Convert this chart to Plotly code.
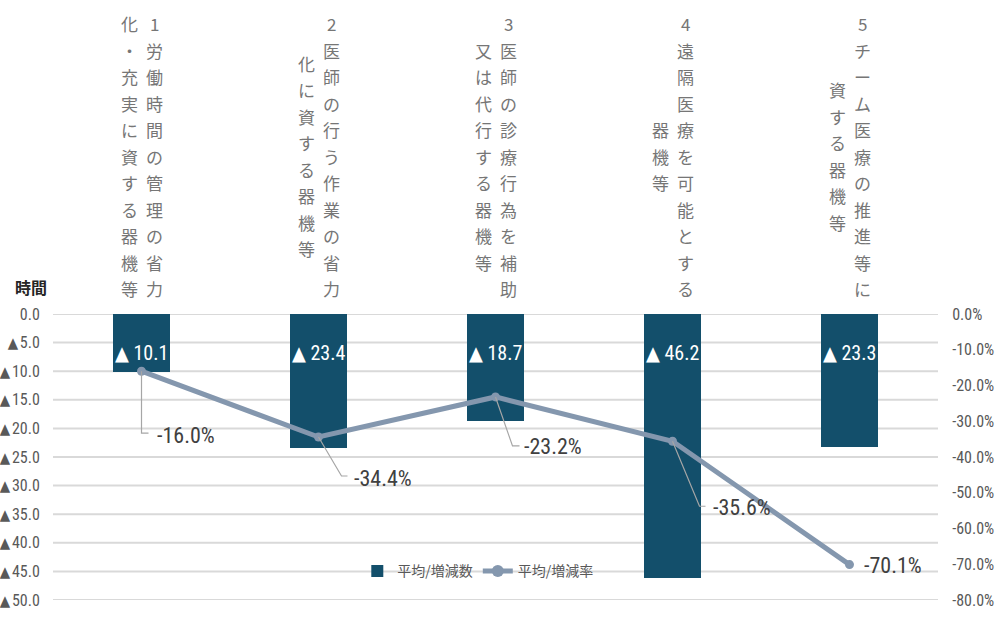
import plotly.graph_objects as go

# ---------------- data ----------------
category_lines = [
    ["1労働時間の管理の省力", "化・充実に資する器機等"],
    ["2医師の行う作業の省力", "化に資する器機等"],
    ["3医師の診療行為を補助", "又は代行する器機等"],
    ["4遠隔医療を可能とする", "器機等"],
    ["5チーム医療の推進等に", "資する器機等"],
]
hours_change = [10.1, 23.4, 18.7, 46.2, 23.3]          # ▲ hours (decrease)
rate_change = [-16.0, -34.4, -23.2, -35.6, -70.1]      # %
left_ticks = [0, 5, 10, 15, 20, 25, 30, 35, 40, 45, 50]
right_ticks = [0, -10, -20, -30, -40, -50, -60, -70, -80]
series_names = ["平均/増減数", "平均/増減率"]
left_axis_title = "時間"

# ---------------- styles ----------------
BAR_COLOR = "#134F6B"
LINE_COLOR = "#8497AE"
GRID_COLOR = "#D9D9D9"
NARROW = "Liberation Sans Narrow, Arial Narrow, Roboto Condensed, DejaVu Sans Condensed, Roboto, sans-serif"
CJK = "Noto Sans CJK JP, sans-serif"

x_idx = list(range(len(hours_change)))

fig = go.Figure()
fig.add_trace(go.Bar(
    x=x_idx, y=hours_change, name=series_names[0],
    marker=dict(color=BAR_COLOR, line=dict(width=0)),
    width=0.32, yaxis="y", hoverinfo="skip",
))
fig.add_trace(go.Scatter(
    x=x_idx, y=rate_change, name=series_names[1], mode="lines+markers",
    line=dict(color=LINE_COLOR, width=5),
    marker=dict(color=LINE_COLOR, size=9, symbol="circle"),
    yaxis="y2", hoverinfo="skip",
))

annotations = []
shapes = []

# horizontal gridlines following the left axis ticks
for t in left_ticks:
    shapes.append(dict(
        type="line", xref="paper", yref="y", x0=0, x1=1, y0=t, y1=t,
        line=dict(color=GRID_COLOR, width=2), layer="below",
    ))

# bar value labels
for i, v in enumerate(hours_change):
    annotations.append(dict(
        x=i, y=0, xref="x", yref="y", text=f"▲ {v:.1f}", showarrow=False,
        xanchor="center", yanchor="middle", yshift=-39,
        font=dict(family=NARROW, size=20, color="white"),
    ))

# line value labels with leader lines (pixel offsets from the point)
label_offsets = [(13, -64), (33, -42), (26, -50), (38, -66), (12, -1)]
leader_paths = ["M0,0 V-62 H7", "M0,0 L23,-39 L29,-39", "M0,0 L17,-49 L24,-49",
                "M0,0 L27,-65 L33,-65", None]
for i, v in enumerate(rate_change):
    dx, dy = label_offsets[i]
    annotations.append(dict(
        x=i, y=v, xref="x", yref="y2", text=f"{v:.1f}%", showarrow=False,
        xanchor="left", yanchor="middle", xshift=dx, yshift=dy,
        font=dict(family=NARROW, size=22, color="#404040"),
    ))
    if leader_paths[i]:
        shapes.append(dict(
            type="path", xref="x", yref="y2", xsizemode="pixel", ysizemode="pixel",
            xanchor=i, yanchor=v, path=leader_paths[i],
            line=dict(color="#A6A6A6", width=1.2), layer="above",
        ))

# vertical (tategaki) category labels at the top
TOP_PX = 314
CENTER_PX = 156
STEP = 26.5
for i, lines in enumerate(category_lines):
    for col, text in enumerate(lines):
        xs = 12.5 if col == 0 else -12.5
        n = len(text)
        for k, ch in enumerate(text):
            py = CENTER_PX + (k - (n - 1) / 2) * STEP
            annotations.append(dict(
                x=i, y=1, xref="x", yref="paper", text=ch, showarrow=False,
                xanchor="center", yanchor="middle", xshift=xs, yshift=TOP_PX - py,
                font=dict(family=CJK, size=17, color="#767676"),
            ))

# left axis title
annotations.append(dict(
    x=0, y=1, xref="paper", yref="paper", text=f"<b>{left_axis_title}</b>",
    showarrow=False, xanchor="center", yanchor="middle", xshift=-22, yshift=27,
    font=dict(family=CJK, size=16, color="#262626"),
))

fig.update_layout(
    template="none",
    width=1000, height=621,
    margin=dict(l=53, r=62, t=314, b=21, autoexpand=False),
    paper_bgcolor="white", plot_bgcolor="white",
    showlegend=True,
    legend=dict(
        orientation="h", x=0.48, xanchor="center", y=0.1, yanchor="middle",
        bgcolor="rgba(0,0,0,0)", font=dict(family=CJK, size=14, color="#595959"),
        itemsizing="constant",
    ),
    xaxis=dict(
        range=[-0.5, len(hours_change) - 0.5], showgrid=False, zeroline=False,
        showticklabels=False, ticks="", showline=False, fixedrange=True,
        automargin=False,
    ),
    yaxis=dict(
        range=[50, 0], tickmode="array", tickvals=left_ticks,
        ticktext=[("<span style='font-size:15px'>▲</span>\u200a" if t else "") + f"{t:.1f}"
                  for t in left_ticks],
        showgrid=False, zeroline=False, automargin=False,
        showline=False, ticks="outside", ticklen=9, tickcolor="rgba(0,0,0,0)",
        tickfont=dict(family=NARROW, size=16, color="#595959"),
    ),
    yaxis2=dict(
        range=[-80, 0], tickmode="array", tickvals=right_ticks,
        ticktext=[f"{t:.1f}%" for t in right_ticks],
        overlaying="y", side="right", showgrid=False, zeroline=False,
        automargin=False,
        showline=False, ticks="outside", ticklen=10, tickcolor="rgba(0,0,0,0)",
        tickfont=dict(family=NARROW, size=16, color="#595959"),
    ),
    annotations=annotations,
    shapes=shapes,
    bargap=0,
)

fig.write_html("out.html")
